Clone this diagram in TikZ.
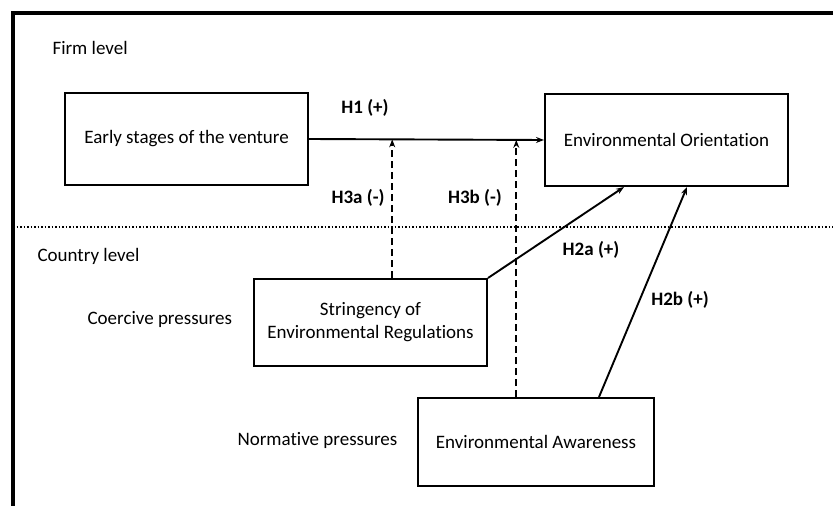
\documentclass[tikz,border=0pt]{standalone}
\usepackage{fontspec}
\setmainfont{Carlito}[Ligatures=NoCommon]
\usepackage{tikz}
\usetikzlibrary{arrows.meta,calc}
\newcommand{\txtsize}{\fontsize{19}{23}\selectfont}
\tikzset{
  factor/.style={draw,line width=2pt,align=center,inner sep=0pt},
  hyp/.style={font=\txtsize\bfseries},
  lvl/.style={anchor=west},
  arr/.style={line width=1.9pt,-{Stealth[length=8pt,width=6pt]}},
  moder/.style={arr,line width=2.2pt,dash pattern=on 7pt off 4pt}
}

\begin{document}
\begin{tikzpicture}[x=1pt,y=-1pt,font=\txtsize]
  \useasboundingbox (0,0) rectangle (833,506);
  % frame and level divider
  \draw[line width=3.2pt] (13,508) -- (13,13) -- (835,13);
  \draw[line width=1.5pt,dotted] (13,227) -- (833,227);
  % levels
  \node[lvl] (firm) at (49,48) {Firm level};
  \node[lvl] (country) at (34,256) {Country level};
  \node[lvl] (coerc) at (84,319) {Coercive pressures};
  \node[lvl] (norm) at (234,440) {Normative pressures};
  % constructs
  \node[factor,minimum width=243,minimum height=92] (early) at (186.5,139)
    {Early stages of the venture};
  \node[factor,minimum width=243,minimum height=92] (eo) at (666.5,140)
    {Environmental Orientation};
  \node[factor,minimum width=233,minimum height=87] (string) at (370.5,322.5)
    {Stringency of\\Environmental Regulations};
  \node[factor,minimum width=236,minimum height=88] (aware) at (536,442)
    {Environmental Awareness};
  % paths
  \draw[arr] (early.east) -- (eo.west);
  \coordinate (m1) at ($(early.east)!0.354!(eo.west)$);
  \coordinate (m2) at ($(early.east)!0.882!(eo.west)$);
  \draw[moder] (string.north -| m1) -- (m1);
  \draw[moder] (aware.north -| m2) -- (m2);
  \draw[arr] (string.north east) -- ([xshift=80pt]eo.south west);
  \draw[arr] ([xshift=63pt]aware.north) -- ([xshift=20.5pt]eo.south);
  % hypotheses
  \node[hyp] (h1) at (365,108) {H1 (+)};
  \node[hyp] (h3a) at (358,198) {H3a (-)};
  \node[hyp] (h3b) at (475,198) {H3b (-)};
  \node[hyp] (h2a) at (591,250) {H2a (+)};
  \node[hyp] (h2b) at (680,300) {H2b (+)};
\end{tikzpicture}
\end{document}
